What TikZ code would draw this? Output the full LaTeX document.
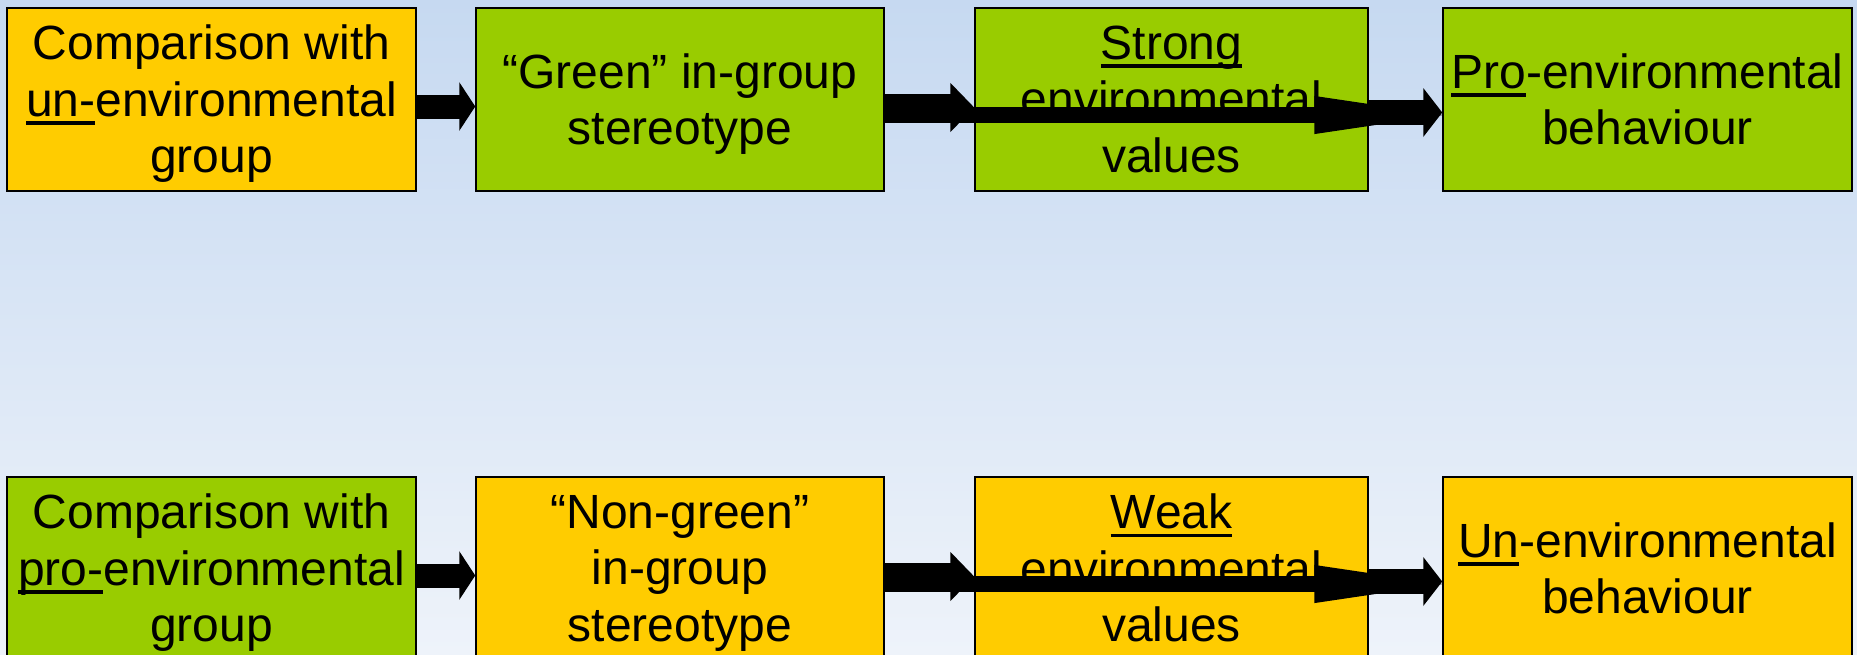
\documentclass[tikz,border=0pt]{standalone}
\usepackage{fontspec}
\setmainfont{Liberation Sans}
\usetikzlibrary{arrows.meta}
\definecolor{boxgreen}{HTML}{99CC00}
\definecolor{boxyellow}{HTML}{FFCC00}
\definecolor{bgtop}{HTML}{C6D9F1}
\definecolor{bgbottom}{HTML}{EEF3FA}
\newsavebox\undlbox
\newcommand\undl[1]{\sbox\undlbox{#1}\rlap{\rule[-8.5pt]{\wd\undlbox}{3.5pt}}\usebox\undlbox}

\begin{document}
\begin{tikzpicture}[x=1pt,y=-1pt,
	box/.style={draw=black, line width=1.5pt, minimum height=183pt, inner sep=0pt, align=center,
		text depth=1pt, font=\fontsize{48}{56.5}\selectfont},
	greenbox/.style={box, fill=boxgreen},
	yellowbox/.style={box, fill=boxyellow},
	blockarrow/.style n args={3}{line width=#1, -{Triangle[length=#2,width=#3]}}]
	\useasboundingbox (0,0) rectangle (1857,654);
	\clip (0,0) rectangle (1857,654);
	\fill[top color=bgtop, bottom color=bgbottom] (0,0) rectangle (1857,654);
	% top row
	\node[yellowbox, minimum width=409pt] (cmpun) at (211.5,99.5) {Comparison with\\\undl{un-}environmental\\group};
	\node[greenbox, minimum width=408pt] (greenst) at (680,99.5) {“Green” in-group\\stereotype};
	\node[greenbox, minimum width=393pt] (strong) at (1171.5,99.5) {\undl{Strong}\\environmental\\values};
	\node[greenbox, minimum width=409pt] (probeh) at (1647.5,99.5) {\undl{Pro}-environmental\\behaviour};
	% bottom row
	\node[greenbox, minimum width=409pt] (cmppro) at (211.5,568.5) {Comparison with\\\undl{pro-}environmental\\group};
	\node[yellowbox, minimum width=408pt] (nongreen) at (680,568.5) {“Non-green”\\in-group\\stereotype};
	\node[yellowbox, minimum width=393pt] (weak) at (1171.5,568.5) {\undl{Weak}\\environmental\\values};
	\node[yellowbox, minimum width=409pt] (unbeh) at (1647.5,568.5) {\undl{Un}-environmental\\behaviour};
	\draw ([yshift=-7pt]cmpun.east) edge[blockarrow={24pt}{16pt}{48pt}] ([yshift=-7pt]greenst.west)
	([yshift=-8pt]greenst.east) edge[blockarrow={28pt}{24pt}{48pt}] ([yshift=-8pt]strong.west)
	([yshift=-13pt]strong.east) edge[blockarrow={25pt}{19pt}{48pt}] ([yshift=-13pt]probeh.west)
	([yshift=-15.5pt]greenst.east) edge[blockarrow={16pt}{145pt}{33pt}] ([xshift=17pt,yshift=-15.5pt]probeh.west);
	\draw ([yshift=-7pt]cmppro.east) edge[blockarrow={24pt}{16pt}{48pt}] ([yshift=-7pt]nongreen.west)
	([yshift=-8pt]nongreen.east) edge[blockarrow={28pt}{24pt}{48pt}] ([yshift=-8pt]weak.west)
	([yshift=-13pt]weak.east) edge[blockarrow={25pt}{19pt}{48pt}] ([yshift=-13pt]unbeh.west)
	([yshift=-15.5pt]nongreen.east) edge[blockarrow={16pt}{145pt}{33pt}] ([xshift=17pt,yshift=-15.5pt]unbeh.west);
\end{tikzpicture}
\end{document}
